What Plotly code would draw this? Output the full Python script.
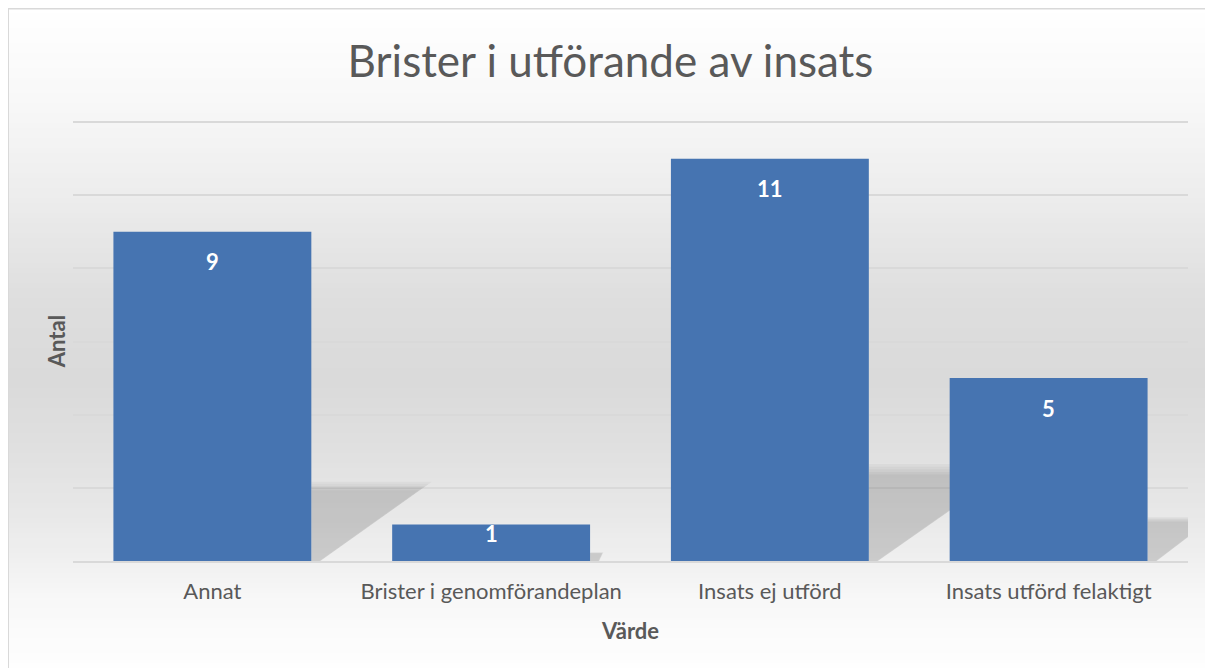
import plotly.graph_objects as go

categories = ["Annat", "Brister i genomförandeplan", "Insats ej utförd", "Insats utförd felaktigt"]
values = [9, 1, 11, 5]
y_ticks = [0, 2, 4, 6, 8, 10, 12]

TITLE = "Brister i utförande av insats"
X_TITLE = "Värde"
Y_TITLE = "Antal"

FONT = "Lato"
TEXT_GRAY = "#595959"
BAR_COLOR = "#4674b1"
GRID = "#d9d9d9"

# figure is placed at (8, 8) by the page's body margin
W, H = 1205, 660
plot_l, plot_r, plot_t, plot_b = 65, 1180, 113, 553

fig = go.Figure()

fig.add_trace(go.Bar(
    x=list(range(len(categories))),
    y=values,
    width=0.71,
    marker=dict(color=BAR_COLOR, line=dict(width=0)),
    hoverinfo="skip",
))

shapes = []

def px_to_paper_x(px):
    return (px - plot_l) / (plot_r - plot_l)
def px_to_paper_y(py):
    return (plot_b - py) / (plot_b - plot_t)

stops = [(0, 255), (92, 248), (192, 236), (292, 222), (372, 218), (442, 224),
         (512, 233), (552, 240), (592, 248), (660, 254)]
def gray_at(py):
    for (y0, g0), (y1, g1) in zip(stops[:-1], stops[1:]):
        if y0 <= py <= y1:
            t = (py - y0) / (y1 - y0)
            return g0 + (g1 - g0) * t
    return stops[-1][1]

step = 5
py = 0
while py < H:
    g = int(round(gray_at(py + step / 2)))
    shapes.append(dict(
        type="rect", xref="paper", yref="paper", layer="below",
        x0=px_to_paper_x(0), x1=px_to_paper_x(W + 2),
        y0=px_to_paper_y(py), y1=px_to_paper_y(min(py + step, H + 2)),
        fillcolor=f"rgb({g},{g},{g})", line=dict(width=0),
    ))
    py += step

# border
shapes.append(dict(
    type="rect", xref="paper", yref="paper", layer="below",
    x0=px_to_paper_x(0), x1=px_to_paper_x(W + 5),
    y0=px_to_paper_y(0.5), y1=px_to_paper_y(H + 5),
    fillcolor="rgba(0,0,0,0)", line=dict(color="#d9d9d9", width=2),
))

# soft cast shadows behind bars, derived from bar values
half_w = 0.355
for i, v in enumerate(values):
    h = 0.215 * v
    dx = 0.2 * h
    xr = i + half_w
    for grow in [1.12, 1.09, 1.06, 1.03, 1.0]:
        hh = h * grow
        path = (f"M {xr},0 L {xr},{hh} L {xr + dx * grow},{hh} "
                f"L {xr + 0.03 * grow},0 Z")
        shapes.append(dict(
            type="path", xref="x", yref="y", layer="between", path=path,
            fillcolor="rgba(0,0,0,0.032)", line=dict(width=0),
        ))

annotations = []
for i, v in enumerate(values):
    ly = v - min(0.82, 0.26 * v)
    annotations.append(dict(
        x=i, y=ly, xref="x", yref="y", text=f"<b>{v}</b>", showarrow=False,
        font=dict(family=FONT, size=22, color="white"),
        xanchor="center", yanchor="middle",
    ))

fig.update_layout(
    width=W, height=H,
    margin=dict(l=plot_l, r=W - plot_r, t=plot_t, b=H - plot_b),
    paper_bgcolor="white",
    plot_bgcolor="rgba(0,0,0,0)",
    showlegend=False,
    bargap=0.29,
    title=dict(
        text=TITLE, x=0.5, xanchor="center", xref="container",
        y=1 - 54 / H, yanchor="middle", yref="container",
        font=dict(family=FONT, size=44, color=TEXT_GRAY),
    ),
    xaxis=dict(
        tickmode="array", tickvals=list(range(len(categories))), ticktext=categories,
        range=[-0.5, len(categories) - 0.5],
        showgrid=False, zeroline=False,
        showline=True, linecolor=GRID, linewidth=2,
        ticks="", ticklabelstandoff=10,
        tickfont=dict(family=FONT, size=22, color=TEXT_GRAY),
        title=dict(text=f"<b>{X_TITLE}</b>", standoff=20,
                   font=dict(family=FONT, size=22, color=TEXT_GRAY)),
    ),
    yaxis=dict(
        range=[0, 12.03], tickmode="array", tickvals=y_ticks, showticklabels=False,
        showgrid=True, gridcolor=GRID, gridwidth=2, zeroline=False,
        ticks="",
        title=dict(text=f"<b>{Y_TITLE}</b>", standoff=0,
                   font=dict(family=FONT, size=22, color=TEXT_GRAY)),
    ),
    shapes=shapes,
    annotations=annotations,
)

fig.write_html("out.html")
